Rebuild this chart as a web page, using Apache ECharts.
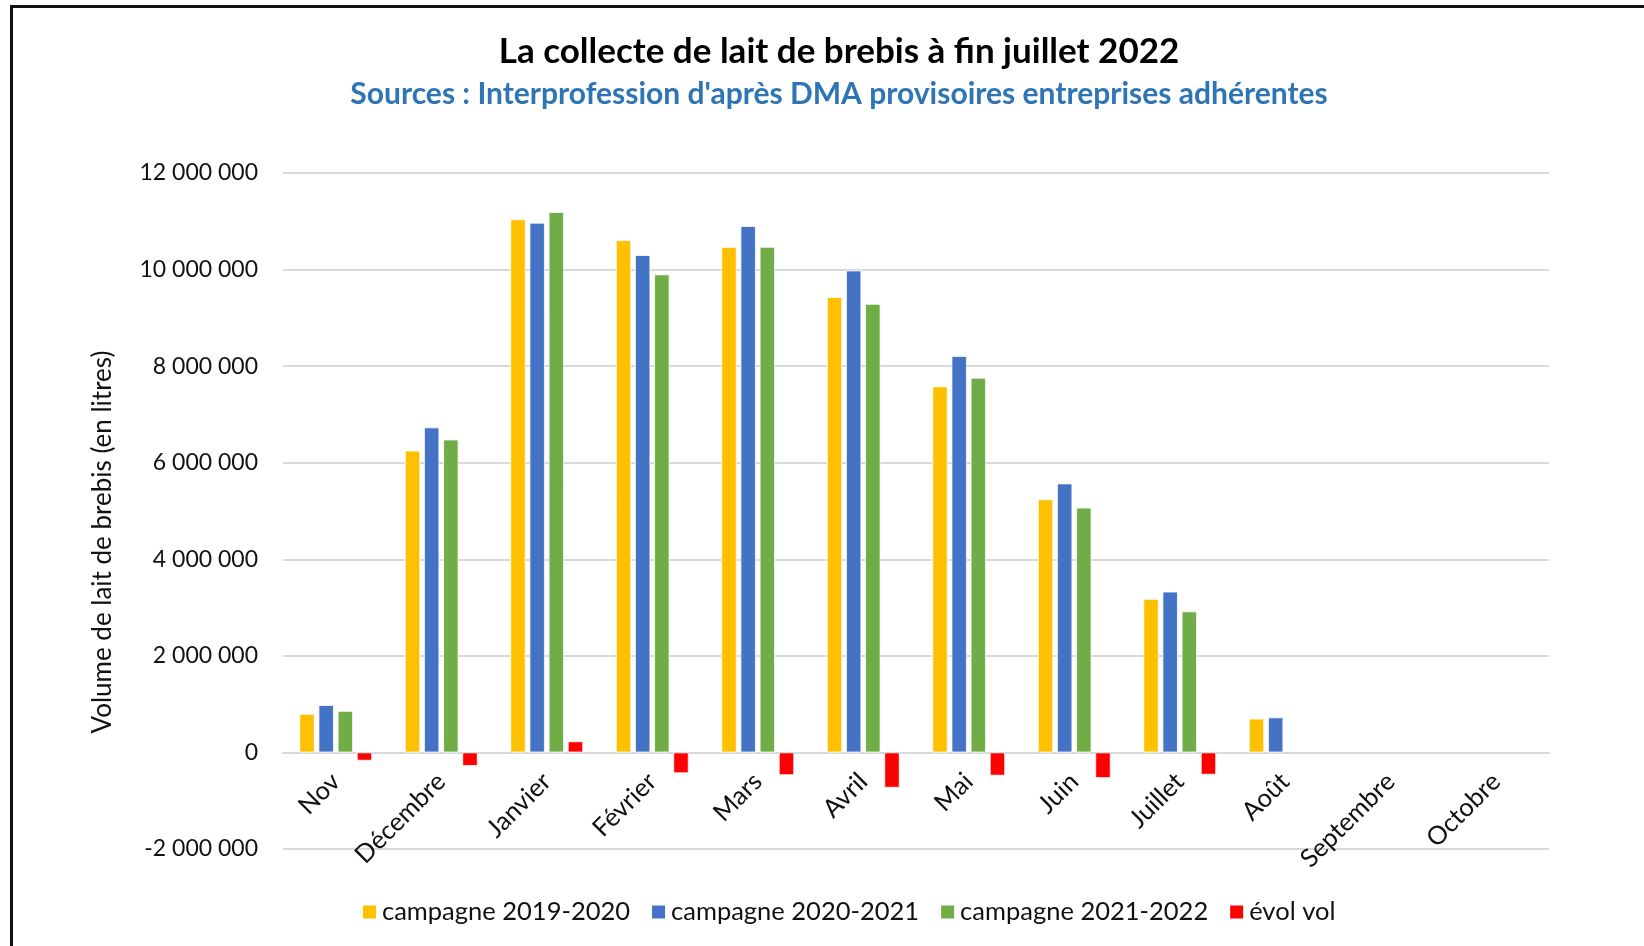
<!DOCTYPE html>
<html>
<head>
<meta charset="utf-8">
<script src="https://cdn.jsdelivr.net/npm/echarts@6/dist/echarts.min.js"></script>
<style>
  html, body { margin: 0; padding: 0; background: #fff; }
  #wrap { position: relative; width: 1644px; height: 946px; }
  #frame { position: absolute; left: 10px; top: 5px; right: -4px; bottom: -4px;
           border-top: 3px solid #111; border-left: 3px solid #111; pointer-events: none; }
  #chart { width: 1644px; height: 946px; }
</style>
</head>
<body>
<div id="wrap">
  <div id="chart"></div>
  <div id="frame"></div>
</div>
<script>
// mois de la campagne
const categories = ['Nov', 'Décembre', 'Janvier', 'Février', 'Mars', 'Avril', 'Mai', 'Juin', 'Juillet', 'Août', 'Septembre', 'Octobre']
const seriesNames = ['campagne 2019-2020', 'campagne 2020-2021', 'campagne 2021-2022', 'évol vol']
// volumes en litres
const camp2019 = [800000, 6250000, 11040000, 10610000, 10470000, 9430000, 7580000, 5240000, 3180000, 700000, null, null]
const camp2020 = [980000, 6730000, 10970000, 10300000, 10900000, 9980000, 8210000, 5570000, 3330000, 725000, null, null]
const camp2021 = [860000, 6480000, 11190000, 9900000, 10470000, 9290000, 7760000, 5070000, 2920000, null, null, null]
const evolVol = [-170000, -280000, 230000, -430000, -470000, -730000, -480000, -530000, -460000, null, null, null]
const yTicks = [-2000000, 0, 2000000, 4000000, 6000000, 8000000, 10000000, 12000000]

const colors = ['#FFC000', '#4472C4', '#70AD47', '#FF0000']
const font = 'Lato'
const txt = '#111'

function fmt (v) {
  const s = String(Math.abs(v)).replace(/\B(?=(\d{3})+(?!\d))/g, ' ')
  return (v < 0 ? '-' : '') + s
}

const gridTop = 173
const gridBottom = 97
const plotH = 946 - gridTop - gridBottom
const yMin = yTicks[0]
const yMax = yTicks[yTicks.length - 1]
// l'axe des mois est posé sur la ligne du zéro
const zeroOffset = plotH * (0 - yMin) / (yMax - yMin)

const chart = echarts.init(document.getElementById('chart'))
const data = [camp2019, camp2020, camp2021, evolVol]
const series = data.map((d, i) => ({
  name: seriesNames[i],
  type: 'bar',
  data: d,
  barGap: '25%',
  barCategoryGap: '31%',
  itemStyle: { color: colors[i], borderColor: '#fff', borderWidth: 0.8 }
}))

const option = {
  animation: false,
  color: colors,
  graphic: [
    {
      type: 'text', x: 839, y: 52,
      style: { text: 'La collecte de lait de brebis à fin juillet 2022', font: 'bold 35px ' + font, fill: '#000', align: 'center', verticalAlign: 'middle' }
    },
    {
      type: 'text', x: 839, y: 94,
      style: { text: "Sources : Interprofession d'après DMA provisoires entreprises adhérentes", font: 'bold 30px ' + font, fill: '#2E75B6', align: 'center', verticalAlign: 'middle' }
    },
    {
      type: 'text', x: 103, y: 542, rotation: Math.PI / 2,
      style: { text: 'Volume de lait de brebis (en litres)', font: '26px ' + font, fill: txt, align: 'center', verticalAlign: 'middle' }
    }
  ],
  legend: {
    data: seriesNames,
    left: 356,
    top: 894,
    itemWidth: 15,
    itemHeight: 15,
    itemGap: 20,
    icon: 'rect',
    textStyle: { fontFamily: font, fontSize: 25.5, color: txt }
  },
  grid: { left: 283, right: 95, top: gridTop, bottom: gridBottom, containLabel: false, outerBoundsMode: 'none' },
  xAxis: {
    type: 'category',
    data: categories,
    offset: -zeroOffset,
    axisLine: { onZero: false, lineStyle: { color: '#d9d9d9', width: 2 } },
    axisTick: { show: false },
    axisLabel: { rotate: 45, margin: 25, fontFamily: font, fontSize: 25.5, color: txt, interval: 0 }
  },
  yAxis: {
    type: 'value',
    min: yMin,
    max: yMax,
    interval: 2000000,
    axisLine: { show: false },
    axisTick: { show: false },
    splitLine: { lineStyle: { color: '#d9d9d9', width: 2 } },
    axisLabel: { margin: 25, fontFamily: font, fontSize: 23, color: txt, formatter: fmt }
  },
  series: series
}
chart.setOption(option)
</script>
</body>
</html>
